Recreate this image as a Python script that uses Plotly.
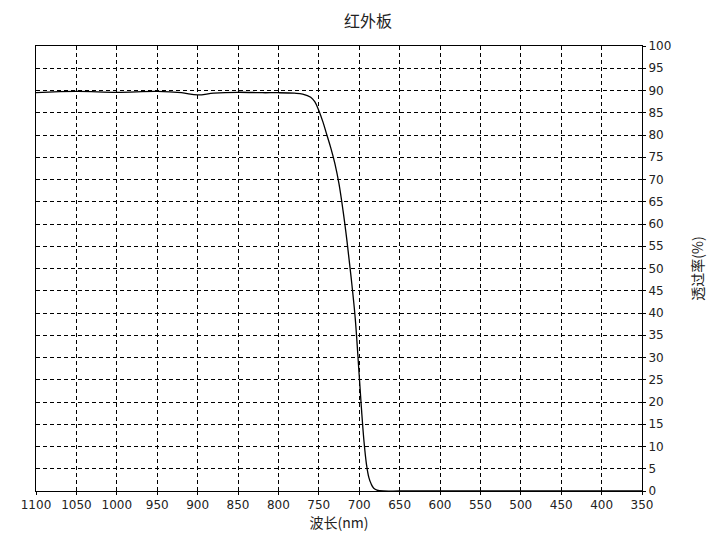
import plotly.graph_objects as go

wavelength = [1100,1050,1000,950,920,900,880,850,820,800,780,770,760,755,750,745,740,735,730,725,720,715,710,705,700,697,694,691,688,685,682,678,670,650,600,500,400,350]
transmit = [89.5,89.8,89.6,89.8,89.5,89.0,89.4,89.6,89.5,89.5,89.4,89.2,88.5,87.5,85.5,83,80,77,73.5,69,63,56,48,39,26,18,11,6,3,1.5,0.6,0.2,0,0,0,0,0,0]

fig = go.Figure(go.Scatter(x=wavelength, y=transmit, mode="lines",
                           line=dict(color="black", width=1.3, shape="spline")))
axis_common = dict(showline=True, linecolor="black", mirror=True, linewidth=1,
                   gridcolor="black", griddash="4px,3px", gridwidth=0.6,
                   ticks="outside", ticklen=3, tickcolor="black", zeroline=False,
                   automargin=False,
                   tickfont=dict(family="DejaVu Sans", size=12, color="#222"))
fig.update_layout(
    width=720, height=539, plot_bgcolor="white", paper_bgcolor="white",
    margin=dict(l=28, r=86, t=38, b=56), showlegend=False,
    title=dict(text="红外板", x=0.5, xanchor="center", y=0.985, yanchor="top",
               font=dict(family="Noto Sans CJK SC", size=16, color="#222")),
    xaxis=dict(range=[1100, 350], tickmode="linear", dtick=50,
               title=dict(text="波长(nm)", standoff=4,
                          font=dict(family="Noto Sans CJK SC", size=14, color="#222")),
               **axis_common),
    yaxis=dict(range=[0, 100], tickmode="linear", dtick=5, side="right",
               title=dict(text="透过率(%)", standoff=22,
                          font=dict(family="Noto Sans CJK SC", size=14, color="#222")),
               **axis_common),
)
fig.write_html("out.html")
